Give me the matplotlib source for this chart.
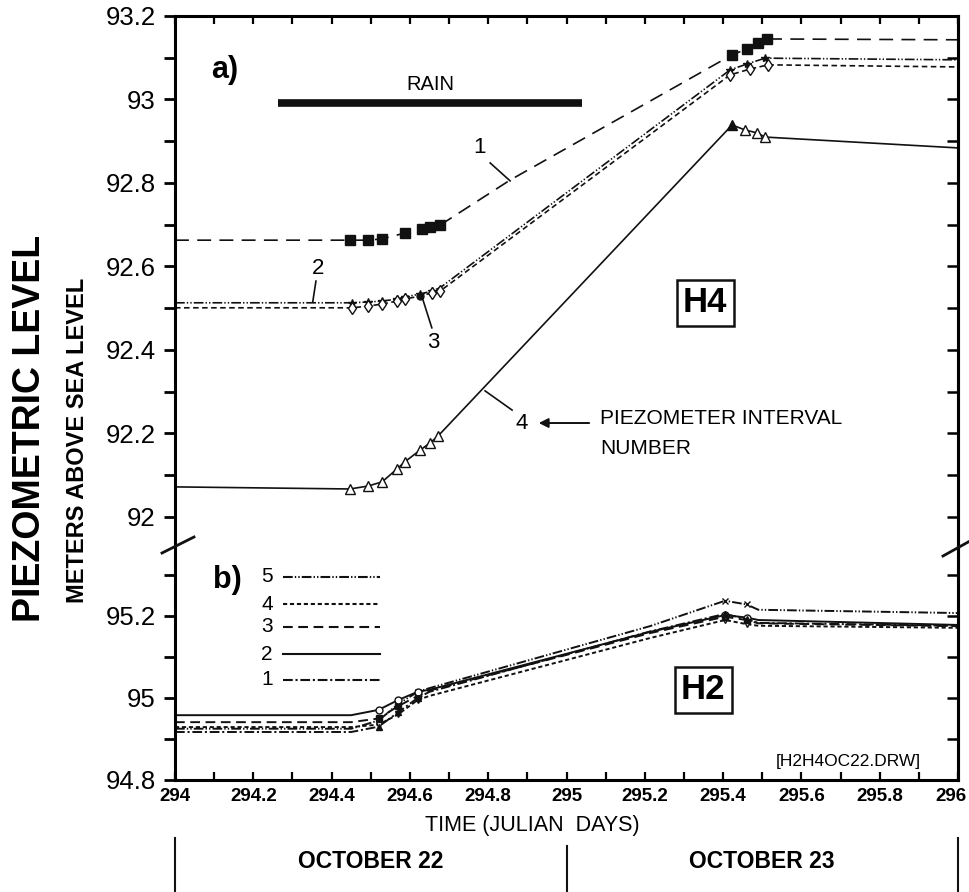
import matplotlib
matplotlib.use("Agg")
import matplotlib.pyplot as plt
from matplotlib.lines import Line2D
import numpy as np

plt.rcParams['font.family'] = ['Liberation Sans', 'DejaVu Sans']
plt.rcParams['lines.scale_dashes'] = False

# ---- a) borehole H4, piezometer intervals 1-4 (m above sea level)
t1 = [294.0, 294.447, 294.493, 294.529, 294.587, 294.631, 294.651, 294.677,
      294.856, 295.423, 295.461, 295.489, 295.512, 296.0]
h1 = [92.663, 92.663, 92.663, 92.666, 92.680, 92.690, 92.695, 92.699,
      92.807, 93.107, 93.121, 93.135, 93.145, 93.143]

t2 = [294.0, 294.452, 294.493, 294.529, 294.567, 294.587, 294.626, 294.656,
      294.677, 295.418, 295.461, 295.507, 296.0]
h2 = [92.513, 92.513, 92.515, 92.517, 92.522, 92.527, 92.534, 92.541,
      92.549, 93.071, 93.085, 93.099, 93.095]

t3 = [294.0, 294.452, 294.493, 294.529, 294.567, 294.587, 294.626, 294.656,
      294.677, 295.418, 295.469, 295.515, 296.0]
h3 = [92.501, 92.501, 92.505, 92.510, 92.517, 92.522, 92.529, 92.537,
      92.541, 93.059, 93.073, 93.083, 93.078]

t4 = [294.0, 294.447, 294.493, 294.529, 294.567, 294.587, 294.626, 294.651,
      294.672, 295.423, 295.456, 295.487, 295.507, 296.0]
h4 = [92.072, 92.067, 92.074, 92.084, 92.115, 92.132, 92.160, 92.177,
      92.194, 92.939, 92.927, 92.920, 92.910, 92.884]

rain_start, rain_end, rain_level = 294.263, 295.04, 92.992

# ---- b) borehole H2, intervals 1-5
tb = [294.0, 294.45, 294.52, 294.57, 294.62, 294.65, 295.213, 295.405,
      295.46, 295.49, 296.0]
b5 = [94.925, 94.925, 94.945, 94.985, 95.015, 95.024, 95.175, 95.237,
      95.228, 95.215, 95.207]
b4 = [94.929, 94.929, 94.935, 94.960, 94.995, 95.005, 95.146, 95.190,
      95.180, 95.176, 95.171]
b3 = [94.941, 94.941, 94.950, 94.980, 95.005, 95.018, 95.158, 95.198,
      95.190, 95.182, 95.175]
b2 = [94.958, 94.958, 94.971, 94.995, 95.015, 95.020, 95.161, 95.202,
      95.196, 95.190, 95.178]
b1 = [94.917, 94.917, 94.930, 94.965, 95.000, 95.015, 95.162, 95.205,
      95.192, 95.183, 95.176]

black = '#111111'
fig = plt.figure(figsize=(9.7, 8.92), dpi=100)
W, H = 970.0, 892.0
L, R = 175 / W, 958 / W
ax_a = fig.add_axes([L, 1 - 547 / H, R - L, (547 - 16) / H])
ax_b = fig.add_axes([L, 1 - 780 / H, R - L, (780 - 547) / H])

def fmt(v):
    return ('%.1f' % v).rstrip('0').rstrip('.')

for ax, lo, hi, ymin, ymax in [(ax_a, 92.0, 93.2, 91.928, 93.2),
                               (ax_b, 94.8, 95.3, 94.8, 95.368)]:
    ax.set_xlim(294, 296)
    ax.set_ylim(ymin, ymax)
    yt = np.round(np.arange(lo, hi + 0.001, 0.1), 1)
    ax.set_yticks(yt)
    ax.set_yticklabels([fmt(v) if round(v * 10) % 2 == 0 else '' for v in yt],
                       fontsize=18.5)
    ax.tick_params(axis='y', direction='out', length=8, width=2, pad=6)
    sec = ax.secondary_yaxis('right')
    sec.set_yticks(yt)
    sec.set_yticklabels([])
    sec.tick_params(direction='in', length=8, width=1.8)
    sec.spines['right'].set_linewidth(2.2)
    for s in ax.spines.values():
        s.set_linewidth(2.2)
    ax.set_xticks(np.round(np.arange(294, 296.001, 0.1), 1))

ax_a.spines['bottom'].set_visible(False)
ax_a.tick_params(axis='x', bottom=False, top=True, labelbottom=False,
                 direction='in', length=6, width=1.6)
ax_b.spines['top'].set_visible(False)
ax_b.tick_params(axis='x', direction='in', length=6, width=1.6, pad=6)
xt = np.round(np.arange(294, 296.001, 0.1), 1)
xlabels = [fmt(v) if round(v * 10) % 2 == 0 else '' for v in xt]
last_label = xlabels[-1]
xlabels[-1] = ''
ax_b.set_xticklabels(xlabels, fontsize=13.5, fontweight='bold')
# the last tick label sits against the figure edge, so it is nudged inwards
ax_b.annotate(last_label, xy=(296, 0), xycoords=('data', 'axes fraction'),
              xytext=(-5, -6), textcoords='offset points', ha='center',
              va='top', fontsize=13.5, fontweight='bold')

# ---- panel a curves
lw = 1.2
ax_a.plot(t1, h1, color=black, lw=lw, dashes=(10, 6), marker='s', ms=7,
          markevery=[1, 2, 3, 4, 5, 6, 7, 9, 10, 11, 12], mfc=black, mec=black)
ax_a.plot(t2, h2, color=black, lw=lw, dashes=(7, 1.5, 1, 1.5, 1, 1.5),
          marker='*', ms=6, markevery=[1, 2, 3, 4, 5, 6, 7, 9, 10, 11],
          mfc=black, mec=black)
ax_a.plot(t3, h3, color=black, lw=lw, dashes=(4, 2.5), marker='d', ms=6,
          markevery=[1, 2, 3, 4, 5, 7, 8, 9, 10, 11], mfc='white', mec=black)
ax_a.plot(t3[6], h3[6], 'o', color=black, ms=5)
ax_a.plot(t4, h4, color=black, lw=lw, marker='^', ms=7,
          markevery=[1, 2, 3, 4, 5, 6, 7, 8, 10, 11, 12], mfc='white', mec=black)
ax_a.plot(t4[9], h4[9], '^', color=black, ms=7)

ax_a.plot([rain_start, rain_end], [rain_level, rain_level], color=black,
          lw=5.5, solid_capstyle='butt')
ax_a.text((rain_start + rain_end) / 2, 93.035, 'RAIN', ha='center',
          va='center', fontsize=14.5)

ax_a.text(294.128, 93.071, 'a)', fontsize=22, fontweight='bold',
          ha='center', va='center')

ax_a.text(294.779, 92.884, '1', fontsize=16, ha='center', va='center')
ax_a.plot([294.805, 294.856], [92.848, 92.805], color=black, lw=1.2)
ax_a.text(294.365, 92.596, '2', fontsize=16, ha='center', va='center')
ax_a.plot([294.360, 294.352], [92.565, 92.516], color=black, lw=1.2)
ax_a.text(294.659, 92.417, '3', fontsize=16, ha='center', va='center')
ax_a.plot([294.656, 294.631], [92.453, 92.527], color=black, lw=1.2)
ax_a.text(294.886, 92.225, '4', fontsize=16, ha='center', va='center')
ax_a.plot([294.861, 294.792], [92.256, 92.302], color=black, lw=1.2)
ax_a.annotate('', xy=(294.922, 92.225), xytext=(295.065, 92.225),
              arrowprops=dict(arrowstyle='-|>', color=black, lw=1.4,
                              mutation_scale=14))
ax_a.text(295.086, 92.237, 'PIEZOMETER INTERVAL', fontsize=15,
          ha='left', va='center')
ax_a.text(295.086, 92.165, 'NUMBER', fontsize=15, ha='left', va='center')

ax_a.text(295.354, 92.513, 'H4', fontsize=25, fontweight='bold',
          ha='center', va='center',
          bbox=dict(boxstyle='square,pad=0.18', fc='white', ec=black, lw=1.8))

# ---- panel b curves
styles = {
    5: (b5, (7, 1.5, 1, 1.5, 1, 1.5)),
    4: (b4, (3, 2)),
    3: (b3, (7, 4)),
    2: (b2, None),
    1: (b1, (7, 2, 1.5, 2)),
}
mk = {5: 'x', 4: 'v', 3: 's', 2: 'o', 1: '^'}
for k, (vals, dash) in styles.items():
    kw = dict(color=black, lw=1.4)
    if dash is not None:
        kw['dashes'] = dash
    ax_b.plot(tb, vals, marker=mk[k], ms=5, markevery=[2, 3, 4, 7, 8],
              mfc='white' if k in (2, 4) else black, mec=black, **kw)

legend_rows = [5, 4, 3, 2, 1]
legend_y = [95.295, 95.229, 95.173, 95.107, 95.044]
for k, y in zip(legend_rows, legend_y):
    dash = styles[k][1]
    kw = dict(color=black, lw=1.5)
    if dash is not None:
        kw['dashes'] = dash
    ax_b.plot([294.276, 294.524], [y, y], **kw)
    ax_b.text(294.235, y, str(k), fontsize=15, ha='center', va='center')

ax_b.text(294.135, 95.288, 'b)', fontsize=22, fontweight='bold',
          ha='center', va='center')
ax_b.text(295.349, 95.02, 'H2', fontsize=25, fontweight='bold',
          ha='center', va='center',
          bbox=dict(boxstyle='square,pad=0.18', fc='white', ec=black, lw=1.8))
ax_b.text(295.72, 94.845, '[H2H4OC22.DRW]', fontsize=12.5,
          ha='center', va='center')

# ---- axis break marks
for x0, y0, x1, y1 in [(162, 553, 194, 537), (943, 556, 970, 541)]:
    fig.add_artist(Line2D([x0 / W, x1 / W], [1 - y0 / H, 1 - y1 / H],
                          color=black, lw=2))

# ---- labels outside the axes
fig.text(30 / W, 1 - 428 / H, 'PIEZOMETRIC LEVEL', rotation=90, fontsize=27,
         fontweight='bold', ha='center', va='center')
fig.text(78 / W, 1 - 440 / H, 'METERS ABOVE SEA LEVEL', rotation=90,
         fontsize=17, fontweight='bold', ha='center', va='center')
fig.text(532 / W, 1 - 826 / H, 'TIME (JULIAN  DAYS)', fontsize=15.5,
         ha='center', va='center')
for x, y0 in [(175, 838), (958, 838), (567, 846)]:
    fig.add_artist(Line2D([x / W, x / W], [1 - y0 / H, 0], color=black, lw=1.5))
fig.text(371 / W, 1 - 862 / H, 'OCTOBER 22', fontsize=16.5, fontweight='bold',
         ha='center', va='center')
fig.text(762 / W, 1 - 862 / H, 'OCTOBER 23', fontsize=16.5, fontweight='bold',
         ha='center', va='center')

fig.savefig('out.png', dpi=100, facecolor='white')
